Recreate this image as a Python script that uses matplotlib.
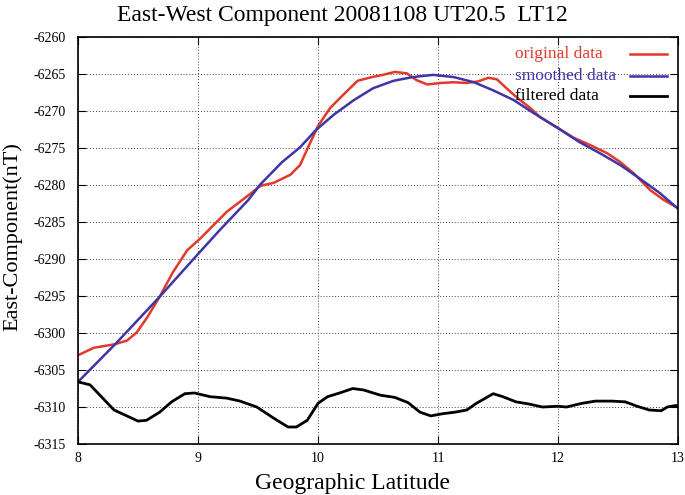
import matplotlib
matplotlib.use("Agg")
import matplotlib.pyplot as plt

# ---- data ----
orig_lat = [8.00, 8.13, 8.31, 8.41, 8.49, 8.58, 8.68, 8.79, 8.91, 9.02, 9.13, 9.24, 9.37, 9.45,
            9.52, 9.63, 9.77, 9.85, 9.92, 10.00, 10.10, 10.21, 10.33, 10.45, 10.54, 10.64, 10.74,
            10.82, 10.91, 11.02, 11.13, 11.24, 11.33, 11.42, 11.49, 11.57, 11.66, 11.77, 11.85,
            11.99, 12.13, 12.27, 12.41, 12.52, 12.63, 12.77, 12.88, 13.00]
orig_val = [-6303.0, -6302.0, -6301.5, -6301.0, -6299.9, -6297.8, -6295.1, -6291.8, -6288.8,
            -6287.2, -6285.4, -6283.6, -6282.0, -6281.0, -6280.1, -6279.7, -6278.6, -6277.3,
            -6274.8, -6272.0, -6269.6, -6267.8, -6265.9, -6265.4, -6265.1, -6264.7, -6264.9,
            -6265.8, -6266.4, -6266.2, -6266.1, -6266.2, -6266.0, -6265.5, -6265.7, -6266.9,
            -6268.2, -6269.6, -6270.8, -6272.2, -6273.6, -6274.6, -6275.7, -6276.9, -6278.4,
            -6280.7, -6282.0, -6283.1]

smooth_lat = [8.00, 8.31, 8.68, 8.99, 9.18, 9.42, 9.52, 9.70, 9.85, 9.98, 10.13, 10.30, 10.46,
              10.63, 10.79, 10.96, 11.13, 11.30, 11.46, 11.63, 11.80, 11.99, 12.18, 12.35, 12.52,
              12.68, 12.85, 13.00]
smooth_val = [-6306.6, -6301.5, -6295.1, -6289.5, -6286.1, -6282.0, -6279.9, -6276.9, -6274.9,
              -6272.6, -6270.5, -6268.5, -6266.9, -6265.9, -6265.4, -6265.1, -6265.4, -6266.1,
              -6267.2, -6268.5, -6270.3, -6272.2, -6274.2, -6275.7, -6277.3, -6279.1, -6281.1,
              -6283.2]

filt_lat = [8.00, 8.10, 8.30, 8.50, 8.57, 8.68, 8.78, 8.89, 8.97, 9.10, 9.24, 9.35, 9.49, 9.63,
            9.75, 9.82, 9.91, 10.00, 10.08, 10.18, 10.29, 10.38, 10.52, 10.64, 10.75, 10.85,
            10.94, 11.04, 11.14, 11.24, 11.32, 11.46, 11.54, 11.65, 11.76, 11.87, 12.00, 12.07,
            12.20, 12.31, 12.45, 12.56, 12.66, 12.76, 12.86, 12.91, 12.98, 13.00]
filt_val = [-6306.6, -6307.0, -6310.4, -6311.9, -6311.8, -6310.7, -6309.3, -6308.2, -6308.1,
            -6308.6, -6308.8, -6309.2, -6310.0, -6311.5, -6312.7, -6312.7, -6311.8, -6309.5,
            -6308.6, -6308.1, -6307.5, -6307.7, -6308.4, -6308.7, -6309.4, -6310.7, -6311.2,
            -6310.9, -6310.7, -6310.4, -6309.5, -6308.2, -6308.6, -6309.3, -6309.6, -6310.0,
            -6309.9, -6310.0, -6309.5, -6309.2, -6309.2, -6309.3, -6309.9, -6310.4, -6310.5,
            -6310.0, -6309.8, -6309.8]

x_ticks = [8, 9, 10, 11, 12, 13]
y_ticks = list(range(-6315, -6259, 5))

series_labels = ['original data', 'smoothed data', 'filtered data']
title = "East-West Component 20081108 UT20.5  LT12"
xlabel = "Geographic Latitude"
ylabel = "East-Component(nT)"

# ---- plot ----
plt.rcParams['font.family'] = ['Liberation Serif', 'DejaVu Serif']

fig = plt.figure(figsize=(6.85, 4.95), dpi=100)
ax = fig.add_axes([0.1139, 0.103, 0.8759, 0.822])

RED = '#e2392a'
BLUE = '#3f35a6'
colors = [RED, BLUE, 'black']
widths = [1.8, 1.8, 2.0]

ax.plot(orig_lat, orig_val, color=colors[0], lw=widths[0])
ax.plot(smooth_lat, smooth_val, color=colors[1], lw=widths[1])
ax.plot(filt_lat, filt_val, color=colors[2], lw=widths[2])

ax.set_xlim(8, 13)
ax.set_ylim(-6315, -6260)
ax.set_xticks(x_ticks)
ax.set_yticks(y_ticks)
ax.set_xticklabels([str(t) for t in x_ticks])
ax.set_yticklabels([str(t) for t in y_ticks])

ax.grid(True, color='#444444', linestyle=(0, (1, 2)), linewidth=0.7)
ax.tick_params(direction='in', top=True, right=True, length=6, width=0.8,
               labelsize=10)
ax.tick_params(axis='y', pad=9)
ax.tick_params(axis='x', pad=6)
for s in ax.spines.values():
    s.set_linewidth(1.2)

fig.suptitle(title, fontsize=17, x=0.5, y=0.989, va='top')
ax.set_xlabel(xlabel, fontsize=17)
ax.xaxis.set_label_coords(0.457, -0.072)
ax.set_ylabel(ylabel, fontsize=16)
ax.yaxis.set_label_coords(-0.093, 0.509)

# gnuplot-style key: coloured text on the left, line sample on the right
key_y = [0.958, 0.904, 0.855]
for lab, c, w, yy in zip(series_labels, colors, widths, key_y):
    ax.text(0.728, yy, lab, color=c, fontsize=12.5, ha='left', va='center',
            transform=ax.transAxes)
    ax.plot([0.920, 0.982], [yy, yy], color=c, lw=w, transform=ax.transAxes,
            clip_on=False)

fig.savefig('out.png', dpi=100)
